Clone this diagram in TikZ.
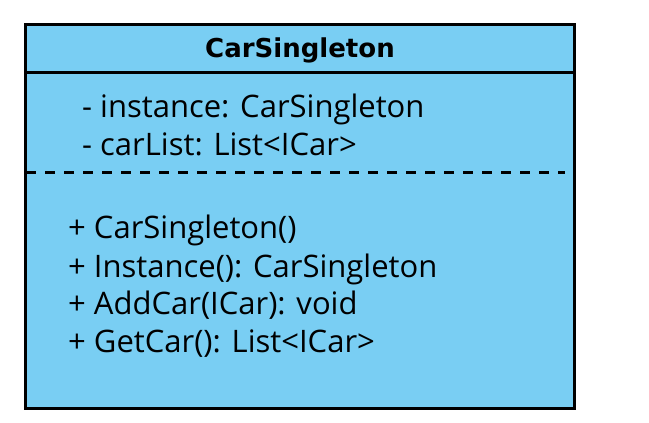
\documentclass[tikz,border=0pt]{standalone}
\usepackage{fontspec}
\setmainfont{Open Sans}
\newfontfamily\titlefont{DejaVu Sans}
\definecolor{umlfill}{RGB}{121,206,243}
\begin{document}
\begin{tikzpicture}[x=1pt,y=-1pt,
  member/.style={anchor=base west,inner sep=0pt,font=\fontsize{31}{36}\selectfont},
  title/.style={anchor=base,inner sep=0pt,font=\titlefont\bfseries\fontsize{26}{30}\selectfont}]
\useasboundingbox (0,0) rectangle (649,423);
\draw[line width=3pt,fill=umlfill] (25,24) rectangle (574,408);
\draw[line width=3pt] (25,72) -- (574,72);
\draw[line width=3pt,dash pattern=on 9.5pt off 9.5pt] (26,172) -- (565,172);
\node[title] (t) at (300,57) {CarSingleton};
\node[member] (a1) at (82,117) {- instance: CarSingleton};
\node[member] (a2) at (82,155) {- carList: List<ICar>};
\node[member] (m1) at (68,238) {+ CarSingleton()};
\node[member] (m2) at (68,277) {+ Instance(): CarSingleton};
\node[member] (m3) at (68,314) {+ AddCar(ICar): void};
\node[member] (m4) at (68,352) {+ GetCar(): List<ICar>};
\end{tikzpicture}
\end{document}
